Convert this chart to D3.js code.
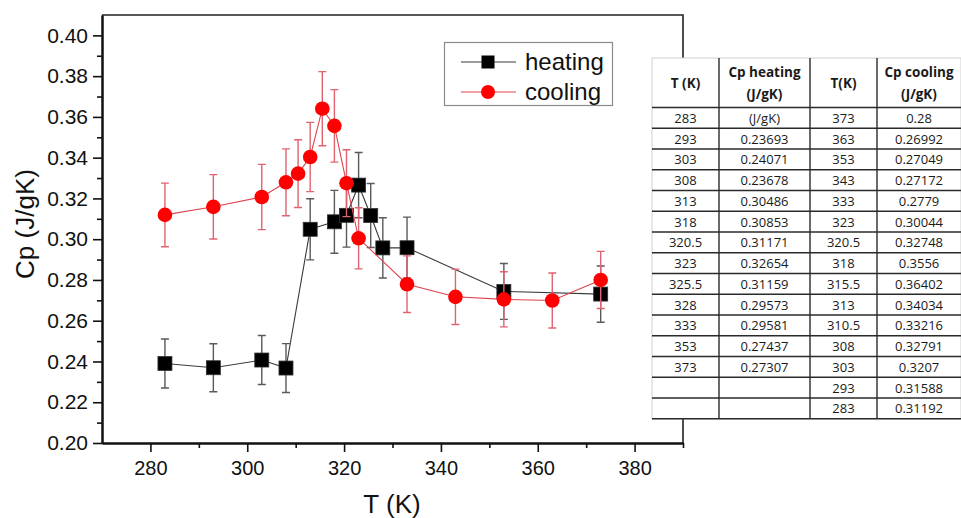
<!DOCTYPE html>
<html>
<head>
<meta charset="utf-8">
<script src="https://cdn.jsdelivr.net/npm/d3@7"></script>
<style>
	body{ margin:0; background:#fff; }
	svg{ display:block; }
	text{ font-family:Arial, "Liberation Sans", sans-serif; fill:#111; }
	.tbl text{ font-family:"Open Sans", sans-serif; fill:#1a1a1a; }
</style>
</head>
<body>
<svg id="chart" width="961" height="518"></svg>
<script>
// heating run
var heatT = [283, 293, 303, 308, 313, 318, 320.5, 323, 325.5, 328, 333, 353, 373]
	, heatCp = [0.239, 0.23693, 0.24071, 0.23678, 0.30486, 0.30853, 0.31171, 0.32654, 0.31159, 0.29573, 0.29581, 0.27437, 0.27307]
	, heatErr = [0.012, 0.0118, 0.012, 0.012, 0.015, 0.0154, 0.0156, 0.016, 0.0157, 0.0148, 0.015, 0.0137, 0.0138]
	;
// cooling run
var coolT = [283, 293, 303, 308, 310.5, 313, 315.5, 318, 320.5, 323, 333, 343, 353, 363, 373]
	, coolCp = [0.31192, 0.31588, 0.3207, 0.32791, 0.33216, 0.34034, 0.36402, 0.3556, 0.32748, 0.30044, 0.2779, 0.27172, 0.27049, 0.26992, 0.28]
	, coolErr = [0.0156, 0.0158, 0.016, 0.0164, 0.0166, 0.017, 0.0182, 0.0178, 0.0164, 0.015, 0.0139, 0.0136, 0.0135, 0.0135, 0.014]
	;
// axis ticks
var xTicks = [280, 300, 320, 340, 360, 380]
	, xMinor = [290, 310, 330, 350, 370, 390]
	, yTicks = [0.20, 0.22, 0.24, 0.26, 0.28, 0.30, 0.32, 0.34, 0.36, 0.38, 0.40]
	, yMinor = [0.21, 0.23, 0.25, 0.27, 0.29, 0.31, 0.33, 0.35, 0.37, 0.39]
	;
// the table beside the plot
var tblHead = [['T (K)'], ['Cp heating', '(J/gK)'], ['T(K)'], ['Cp cooling', '(J/gK)']]
	, tblHeatT = ['283', '293', '303', '308', '313', '318', '320.5', '323', '325.5', '328', '333', '353', '373', '', '']
	, tblHeatCp = ['(J/gK)', '0.23693', '0.24071', '0.23678', '0.30486', '0.30853', '0.31171', '0.32654', '0.31159', '0.29573', '0.29581', '0.27437', '0.27307', '', '']
	, tblCoolT = ['373', '363', '353', '343', '333', '323', '320.5', '318', '315.5', '313', '310.5', '308', '303', '293', '283']
	, tblCoolCp = ['0.28', '0.26992', '0.27049', '0.27172', '0.2779', '0.30044', '0.32748', '0.3556', '0.36402', '0.34034', '0.33216', '0.32791', '0.3207', '0.31588', '0.31192']
	;

var svg = d3.select('#chart')
	, L = 102, R = 683, T = 15, B = 443
	, x = d3.scaleLinear().domain([270, 390]).range([L, R])
	, y = d3.scaleLinear().domain([0.20, 0.41]).range([B, T])
	;

// frame
svg.append('path').attr('d', 'M'+ L +','+ T +'H'+ R +'V'+ B)
	.attr('fill', 'none').attr('stroke', '#222').attr('stroke-width', 1.6);

// axes
var gx = svg.append('g').attr('transform', 'translate(0,'+ B +')')
	.call(d3.axisBottom(x).tickValues(xTicks).tickSize(9).tickPadding(9).tickSizeOuter(0));
gx.append('g').call(d3.axisBottom(x).tickValues(xMinor).tickSize(5).tickFormat('').tickSizeOuter(0));
var gy = svg.append('g').attr('transform', 'translate('+ L +',0)')
	.call(d3.axisLeft(y).tickValues(yTicks).tickSize(9).tickPadding(5).tickFormat(d3.format('.2f')).tickSizeOuter(0));
gy.append('g').call(d3.axisLeft(y).tickValues(yMinor).tickSize(5).tickFormat('').tickSizeOuter(0));

svg.selectAll('.domain').attr('stroke', '#111').attr('stroke-width', 2);
svg.selectAll('.tick line').attr('stroke', '#111').attr('stroke-width', 1.6);
gx.selectAll('.tick text').attr('font-size', 20).attr('fill', '#111').attr('font-family', 'Arial, "Liberation Sans", sans-serif');
gy.selectAll('.tick text').attr('font-size', 21).attr('fill', '#111').attr('font-family', 'Arial, "Liberation Sans", sans-serif');

// axis titles
svg.append('text').attr('x', 392).attr('y', 513).attr('text-anchor', 'middle').attr('font-size', 26).text('T (K)');
svg.append('text').attr('transform', 'translate(34,224) rotate(-90)').attr('text-anchor', 'middle').attr('font-size', 26).text('Cp (J/gK)');

// one series: error bars, line, markers
function series(ts, vs, es, o){
	var g = svg.append('g')
		, pts = ts.map(function(t, i){ return [t, vs[i], es[i]]; })
		;
	g.selectAll('.err').data(pts).enter().append('path')
		.attr('fill', 'none').attr('stroke', o.err).attr('stroke-width', 1.4)
		.attr('d', function(d){
			var cx = x(d[0]), y0 = y(d[1] - d[2]), y1 = y(d[1] + d[2]);
			return 'M'+ cx +','+ y0 +'V'+ y1 +'M'+ (cx - 4) +','+ y0 +'H'+ (cx + 4) +'M'+ (cx - 4) +','+ y1 +'H'+ (cx + 4);
		});
	g.append('path').datum(pts).attr('fill', 'none').attr('stroke', o.line).attr('stroke-width', 1.1)
		.attr('d', d3.line().x(function(d){ return x(d[0]); }).y(function(d){ return y(d[1]); }));
	if( o.shape === 'square' ){
		g.selectAll('.m').data(pts).enter().append('rect')
			.attr('x', function(d){ return x(d[0]) - 7; }).attr('y', function(d){ return y(d[1]) - 7; })
			.attr('width', 14).attr('height', 14).attr('fill', o.fill).attr('stroke', '#333').attr('stroke-width', 0.8);
	}
	else{
		g.selectAll('.m').data(pts).enter().append('circle')
			.attr('cx', function(d){ return x(d[0]); }).attr('cy', function(d){ return y(d[1]); })
			.attr('r', 7.3).attr('fill', o.fill);
	}
}
series(heatT, heatCp, heatErr, {err: '#5a5a5a', line: '#3a3a3a', fill: '#000', shape: 'square'});
series(coolT, coolCp, coolErr, {err: '#e06470', line: '#dc4450', fill: '#ff0000', shape: 'circle'});

// legend
var lg = svg.append('g');
lg.append('rect').attr('x', 444.5).attr('y', 42.5).attr('width', 168).attr('height', 63)
	.attr('fill', '#fff').attr('stroke', '#8a8a8a').attr('stroke-width', 1.2);
lg.append('line').attr('x1', 461).attr('x2', 516).attr('y1', 62).attr('y2', 62).attr('stroke', '#3a3a3a');
lg.append('rect').attr('x', 481.5).attr('y', 55.5).attr('width', 13).attr('height', 13).attr('fill', '#000');
lg.append('text').attr('x', 525).attr('y', 70).attr('font-size', 24).text('heating');
lg.append('line').attr('x1', 461).attr('x2', 516).attr('y1', 92).attr('y2', 92).attr('stroke', '#dc4450');
lg.append('circle').attr('cx', 488).attr('cy', 92).attr('r', 7).attr('fill', '#ff0000');
lg.append('text').attr('x', 525).attr('y', 100).attr('font-size', 24).text('cooling');

// table
var tb = svg.append('g').attr('class', 'tbl')
	, colX = [652, 719, 810, 877, 961]
	, tTop = 58, headH = 49.5, rowH = 20.75
	, cols = [tblHeatT, tblHeatCp, tblCoolT, tblCoolCp]
	, nRows = tblHeatT.length
	, tBot = tTop + headH + nRows * rowH
	;
tb.append('rect').attr('x', colX[0]).attr('y', tTop).attr('width', 961 - colX[0]).attr('height', tBot - tTop)
	.attr('fill', '#fff').attr('stroke', '#cfcfcf');
d3.range(nRows + 1).forEach(function(i){
	var yy = tTop + headH + i * rowH;
	tb.append('line').attr('x1', colX[0]).attr('x2', 961).attr('y1', yy).attr('y2', yy)
		.attr('stroke', '#2a2a2a').attr('stroke-width', 1.6);
});
colX.slice(1, 4).forEach(function(cx){
	tb.append('line').attr('x1', cx).attr('x2', cx).attr('y1', tTop).attr('y2', tBot)
		.attr('stroke', '#2a2a2a').attr('stroke-width', 1.4);
});
tblHead.forEach(function(lines, c){
	var cx = (colX[c] + colX[c + 1]) / 2;
	lines.forEach(function(s, k){
		tb.append('text').attr('x', cx).attr('y', tTop + headH / 2 + 5 + (lines.length > 1 ? (k ? 11 : -11) : 0))
			.attr('text-anchor', 'middle').attr('font-size', 13.5).attr('font-weight', 'bold').text(s);
	});
});
cols.forEach(function(col, c){
	var cx = (colX[c] + colX[c + 1]) / 2;
	col.forEach(function(s, r){
		tb.append('text').attr('x', cx).attr('y', tTop + headH + r * rowH + rowH / 2 + 5)
			.attr('text-anchor', 'middle').attr('font-size', 13).text(s);
	});
});
</script>
</body>
</html>
